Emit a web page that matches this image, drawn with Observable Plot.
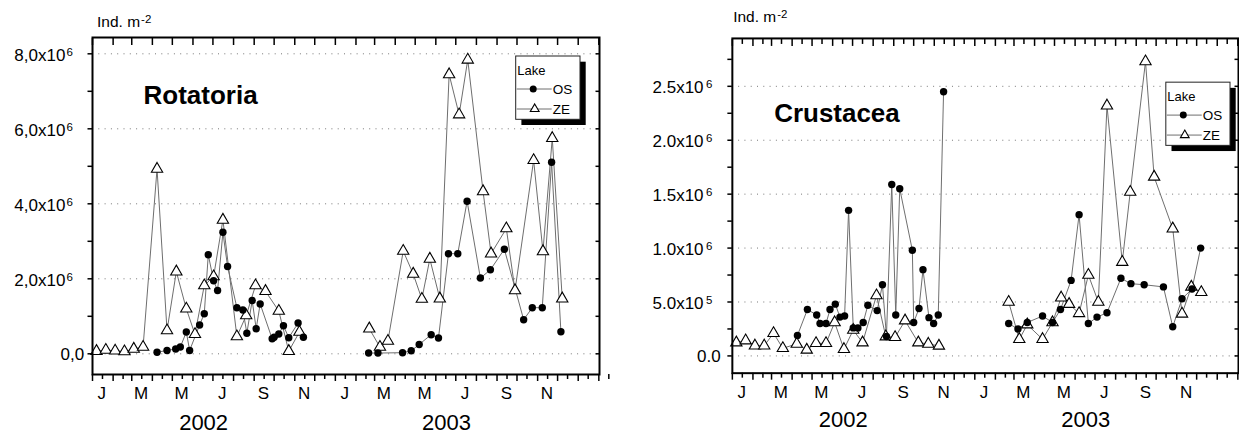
<!DOCTYPE html>
<html><head><meta charset="utf-8">
<script src="https://cdn.jsdelivr.net/npm/d3@7"></script>
<script src="https://cdn.jsdelivr.net/npm/@observablehq/plot@0.6"></script>
<style>
html,body{margin:0;padding:0;background:#fff;}
body{width:1239px;height:436px;overflow:hidden;position:relative;}
.panel{position:absolute;top:0;}
</style></head><body>
<div id="left" class="panel" style="left:0px"></div>
<div id="right" class="panel" style="left:640px"></div>
<script>
// ---------- data (values in 10^6 ind. m^-2) ----------
const zeDates = ["2002-01-07","2002-01-21","2002-02-04","2002-02-18","2002-03-04","2002-03-18","2002-04-08","2002-04-23","2002-05-07","2002-05-22","2002-06-04","2002-06-18","2002-07-02","2002-07-16","2002-08-06","2002-08-20","2002-09-03","2002-09-18","2002-10-08","2002-10-23","2002-11-08",
  "2003-02-21","2003-03-09","2003-03-21","2003-04-13","2003-04-28","2003-05-11","2003-05-23","2003-06-07","2003-06-21","2003-07-06","2003-07-19","2003-08-11","2003-08-23","2003-09-15","2003-09-28","2003-10-26","2003-11-09","2003-11-23","2003-12-08"];
const rotZE = [0.07,0.10,0.08,0.06,0.13,0.18,4.93,0.62,2.19,1.20,0.52,1.82,2.06,3.57,0.46,1.02,1.82,1.67,1.14,0.07,0.58,
  0.67,0.18,0.34,2.74,2.13,1.46,2.53,1.47,7.45,6.38,7.84,4.33,2.67,3.34,1.69,5.16,2.73,5.75,1.47];
const rotOSDates = ["2002-04-08","2002-04-23","2002-05-06","2002-05-13","2002-05-22","2002-05-27","2002-06-11","2002-06-18","2002-06-24","2002-07-02","2002-07-08","2002-07-16","2002-07-23","2002-08-06","2002-08-15","2002-08-21","2002-08-29","2002-09-04","2002-09-10","2002-09-28","2002-10-01","2002-10-08","2002-10-15","2002-10-23","2002-11-06","2002-11-14",
  "2003-02-20","2003-03-06","2003-04-12","2003-04-25","2003-05-07","2003-05-25","2003-06-05","2003-06-20","2003-07-04","2003-07-18","2003-08-07","2003-08-22","2003-09-12","2003-10-11","2003-10-24","2003-11-08","2003-11-22","2003-12-06"];
const rotOS = [0.04,0.09,0.13,0.18,0.58,0.09,0.77,1.07,2.64,1.95,1.69,3.24,2.33,1.23,1.17,0.55,1.42,0.67,1.33,0.40,0.44,0.53,0.75,0.43,0.82,0.44,
  0.02,0.02,0.03,0.08,0.25,0.51,0.42,2.67,2.67,4.07,2.02,2.24,2.79,0.91,1.23,1.23,5.11,0.59];
const cruZE = [0.123,0.142,0.095,0.095,0.21,0.071,0.111,0.056,0.117,0.117,0.31,0.062,0.24,0.123,0.56,0.179,0.173,0.327,0.123,0.111,0.093,
  0.50,0.155,0.29,0.155,0.31,0.54,0.48,0.395,0.75,0.50,2.32,0.87,1.52,2.73,1.66,1.18,0.39,0.64,0.59];
const cruOSDates = ["2002-04-09","2002-04-24","2002-05-08","2002-05-13","2002-05-22","2002-05-28","2002-06-05","2002-06-12","2002-06-19","2002-06-25","2002-07-02","2002-07-09","2002-07-17","2002-07-24","2002-08-07","2002-08-15","2002-08-21","2002-08-29","2002-09-04","2002-09-10","2002-09-29","2002-10-01","2002-10-09","2002-10-15","2002-10-24","2002-10-31","2002-11-07","2002-11-15",
  "2003-02-21","2003-03-07","2003-03-21","2003-04-13","2003-04-28","2003-05-10","2003-05-26","2003-06-07","2003-06-21","2003-07-04","2003-07-19","2003-08-09","2003-08-24","2003-09-13","2003-10-12","2003-10-26","2003-11-09","2003-11-24","2003-12-07"];
const cruOS = [0.19,0.43,0.38,0.30,0.30,0.43,0.48,0.36,0.37,1.35,0.26,0.26,0.31,0.47,0.42,0.66,0.18,1.59,0.38,1.55,0.98,0.31,0.44,0.80,0.355,0.30,0.38,2.45,
  0.30,0.25,0.31,0.37,0.31,0.43,0.70,1.31,0.30,0.36,0.40,0.72,0.67,0.66,0.64,0.27,0.53,0.62,1.00];

const rotYTicks = [0,2,4,6,8];
const rotYLabels = ["0,0","2,0x10|6","4,0x10|6","6,0x10|6","8,0x10|6"];
const rotYMinor = [1,3,5,7];
const cruYTicks = [0,0.5,1,1.5,2,2.5];
const cruYLabels = ["0.0","5.0x10|5","1.0x10|6","1.5x10|6","2.0x10|6","2.5x10|6"];
const cruYMinor = [0.25,0.75,1.25,1.75,2.25,2.75];
const monthLetters = ["J","F","M","A","M","J","J","A","S","O","N","D"];
const years = [2002, 2003];
const panelTitles = ["Rotatoria","Crustacea"];
const unitText = ["Ind. m","-2"];
const legendTitle = "Lake";
const lakes = ["OS","ZE"];

// ---------- helpers ----------
const FONT = "'Liberation Sans', Arial, Helvetica, sans-serif";
const X0 = new Date(Date.UTC(2002,0,1)), X1 = new Date(Date.UTC(2004,1,2));
const monthStarts = d3.utcMonth.range(X0, X1);
const midMonths = monthStarts.map(d => new Date(Date.UTC(d.getUTCFullYear(), d.getUTCMonth(), 16)));
const labelMonths = monthStarts.filter(d => d.getUTCMonth() % 2 === 0 && d.getUTCFullYear() < 2004)
  .map(d => new Date(Date.UTC(d.getUTCFullYear(), d.getUTCMonth(), 15)));
const yearTicks = years.map(y => new Date(Date.UTC(y, 5, 17)));

function rows(dates, values) {
  return dates.map((d, i) => ({date: new Date(d), v: values[i], yr: d.slice(0, 4)}));
}

function makePanel(c) {
  const os = rows(c.osDates, c.osValues);
  const ze = rows(zeDates, c.zeValues);
  const lab = new Map(c.yTicks.map((t, i) => [t, c.yLabels[i]]));
  const all = [...c.yTicks, ...c.yMinor];
  const tk = {fill: "none", stroke: "#000", strokeWidth: 1.5, label: null};
  const svg = Plot.plot({
    width: c.width, height: 436,
    marginLeft: 92, marginRight: c.width - 599, marginTop: c.top, marginBottom: 436 - c.bottom,
    style: {fontFamily: FONT, fontSize: "17px", color: "#000", background: "transparent", overflow: "visible"},
    x: {type: "utc", domain: [X0, X1]},
    y: {domain: c.yDomain},
    marks: [
      Plot.gridY(c.yTicks, {stroke: "#777", strokeOpacity: 1, strokeWidth: 1, strokeDasharray: "1,5.3"}),
      Plot.axisY(all, {anchor: "left", tickSize: 4.5, ...tk}),
      Plot.axisY(all, {anchor: "right", tickSize: 4.5, dx: -4.5, ...tk}),
      Plot.axisY([c.yTicks[0]], {anchor: "left", tickSize: 0, tickPadding: c.zeroPad, tickFormat: d => lab.get(d), fontSize: 17, dy: 1, label: null}),
      Plot.axisY(c.yTicks.slice(1), {anchor: "left", tickSize: 0, tickPadding: c.supPad, tickFormat: d => lab.get(d), fontSize: 17, dy: 1.5, label: null}),
      Plot.axisX(monthStarts, {anchor: "bottom", tickSize: 7, ...tk}),
      Plot.axisX(midMonths, {anchor: "bottom", tickSize: 5, ...tk}),
      Plot.axisX(monthStarts, {anchor: "top", tickSize: 7, dy: 7, ...tk}),
      c.topMid ? Plot.axisX(midMonths, {anchor: "top", tickSize: 5, dy: 5, ...tk}) : null,
      Plot.axisX(labelMonths, {anchor: "bottom", tickSize: 0, tickPadding: 12.9, tickFormat: d => monthLetters[d.getUTCMonth()], fontSize: 17, label: null}),
      Plot.axisX(yearTicks, {anchor: "bottom", tickSize: 0, tickPadding: c.yearPad, tickFormat: d => String(d.getUTCFullYear()), fontSize: 22, label: null}),
      Plot.line(os, {x: "date", y: "v", z: "yr", stroke: "#6e6e6e", strokeWidth: 1}),
      Plot.line(ze, {x: "date", y: "v", z: "yr", stroke: "#6e6e6e", strokeWidth: 1}),
      Plot.dot(ze, {x: "date", y: "v", symbol: "triangle", r: 4.2, fill: "#fff", stroke: "#000", strokeWidth: 1.1}),
      Plot.dot(os, {x: "date", y: "v", r: 3.7, fill: "#000", stroke: "none"}),
      Plot.text([c.title], {text: d => d, frameAnchor: "top-left", textAnchor: "start", lineAnchor: "top", dx: c.titleDx, dy: c.titleDy, fontSize: 26, fontWeight: "bold", fill: "#000"}),
      Plot.frame({stroke: "#000", strokeWidth: 2})
    ]
  });
  const s = d3.select(svg);
  // superscripts in tick labels
  s.selectAll("text").each(function() {
    const t = this.textContent;
    if (!t.includes("|")) return;
    const [a, b] = t.split("|");
    const el = d3.select(this);
    el.text(null);
    el.append("tspan").text(a);
    el.append("tspan").attr("dx", c.supDx).attr("dy", -5).attr("font-size", 11.5).text(b);
  });
  // unit label
  const u = s.append("text").attr("x", c.unitX).attr("y", c.unitY).attr("text-anchor", "start")
    .attr("font-family", FONT).attr("font-size", 15.5).attr("fill", "#000");
  u.append("tspan").text(unitText[0]);
  u.append("tspan").attr("dx", 1).attr("dy", -4).attr("font-size", 11.5).text(unitText[1]);
  // legend
  const g = s.append("g").attr("font-family", FONT).attr("text-anchor", "start").attr("fill", "#000");
  const lx = c.legX, ly = c.legY, w = 64.3, h = 63.3;
  g.append("rect").attr("x", lx + 5.7).attr("y", ly + 5.7).attr("width", w).attr("height", h).attr("fill", "#000");
  g.append("rect").attr("x", lx).attr("y", ly).attr("width", w).attr("height", h).attr("fill", "#fff").attr("stroke", "#222").attr("stroke-width", 1);
  g.append("text").attr("x", lx + 1.5).attr("y", ly + 18.5).attr("font-size", 13).attr("fill", "#000").text(legendTitle);
  lakes.forEach((name, i) => {
    const cy = ly + 33 + i * 20;
    g.append("line").attr("x1", lx + 1).attr("x2", lx + 36).attr("y1", cy).attr("y2", cy).attr("stroke", "#6e6e6e");
    if (i === 0) g.append("circle").attr("cx", lx + 17.5).attr("cy", cy).attr("r", 3.5).attr("fill", "#000");
    else g.append("path").attr("transform", `translate(${lx + 19},${cy})`).attr("d", d3.symbol(d3.symbolTriangle2, Math.PI * 4.2 * 4.2)()).attr("fill", "#fff").attr("stroke", "#000").attr("stroke-width", 1.1);
    g.append("text").attr("x", lx + 37).attr("y", cy + 5).attr("font-size", 13.5).attr("fill", "#000").text(name);
  });
  return svg;
}

document.getElementById("left").appendChild(makePanel({
  width: 620, top: 37, bottom: 374, yDomain: [-0.552, 8.435],
  yTicks: rotYTicks, yLabels: rotYLabels, yMinor: rotYMinor,
  zeroPad: 8.4, supPad: 19.7, supDx: 1, yearPad: 39.7, topMid: false,
  osDates: rotOSDates, osValues: rotOS, zeValues: rotZE,
  title: panelTitles[0], titleDx: 51, titleDy: 47.8,
  unitX: 97, unitY: 26.7, legX: 515.7, legY: 56
}));
document.getElementById("right").appendChild(makePanel({
  width: 600, top: 38, bottom: 373.3, yDomain: [-0.16, 2.944],
  yTicks: cruYTicks, yLabels: cruYLabels, yMinor: cruYMinor,
  zeroPad: 11.7, supPad: 20, supDx: 2.5, yearPad: 38.8, topMid: true,
  osDates: cruOSDates, osValues: cruOS, zeValues: cruZE,
  title: panelTitles[1], titleDx: 42, titleDy: 65.2,
  unitX: 93.3, unitY: 21.7, legX: 526.7, legY: 82.3
}));
</script>
</body></html>
